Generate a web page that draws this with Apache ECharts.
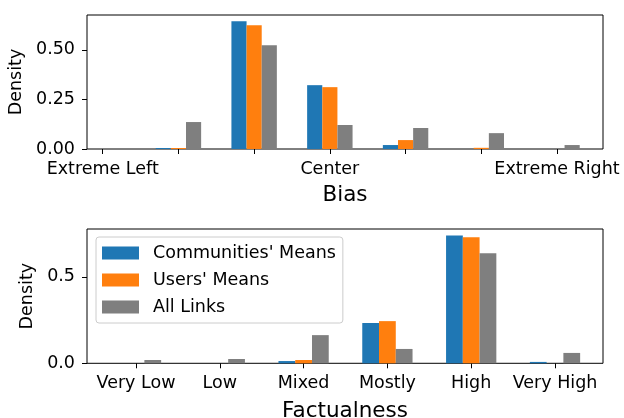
<!DOCTYPE html>
<html><head><meta charset="utf-8">
<script src="https://cdn.jsdelivr.net/npm/echarts@6/dist/echarts.min.js"></script>
<style>html,body{margin:0;padding:0;background:#fff}#c{width:624px;height:418px}</style>
</head><body><div id="c"></div>
<script>
const biasCategories = ['Extreme Left','Left','Center-Left','Center','Center-Right','Right','Extreme Right'];
const biasCommunities = [0, 0.005, 0.644, 0.322, 0.02, 0, 0];
const biasUsers = [0, 0.005, 0.624, 0.312, 0.045, 0.006, 0];
const biasAllLinks = [0, 0.136, 0.523, 0.121, 0.106, 0.08, 0.02];
const biasYTicks = [0, 0.25, 0.5];

const factCategories = ['Very Low','Low','Mixed','Mostly','High','Very High'];
const factCommunities = [0, 0, 0.013, 0.233, 0.740, 0.008];
const factUsers = [0, 0, 0.019, 0.244, 0.729, 0];
const factAllLinks = [0.019, 0.025, 0.163, 0.083, 0.637, 0.06];
const factYTicks = [0, 0.5];

const seriesNames = ["Communities' Means", "Users' Means", 'All Links'];
const colors = ['#1f77b4', '#ff7f0e', '#7f7f7f'];

const FONT = 'DejaVu Sans';
const TICK = 17.5;
const NAME = 21.5;
const topMax = 0.676, botMax = 0.777;

const chart = echarts.init(document.getElementById('c'), null, {renderer: 'canvas'});

function frameY(idx, max, ticks, dec, gap) {
  return {
    gridIndex: idx, type: 'value', min: 0, max: max,
    name: 'Density', nameLocation: 'middle', nameGap: gap,
    nameTextStyle: {fontFamily: FONT, fontSize: TICK, color: '#000'},
    axisLine: {show: false},
    axisTick: {show: true, length: 5, inside: false, lineStyle: {color: '#000'}, customValues: ticks},
    axisLabel: {fontFamily: FONT, fontSize: TICK, color: '#000', margin: 12, customValues: ticks,
      formatter: v => v.toFixed(dec)},
    splitLine: {show: false}
  };
}
function frameX(idx, name, gap) {
  return {
    gridIndex: idx, type: 'value', min: 0, max: 1,
    name: name, nameLocation: 'middle', nameGap: gap,
    nameTextStyle: {fontFamily: FONT, fontSize: NAME, color: '#000'},
    axisLine: {show: false}, axisTick: {show: false}, axisLabel: {show: false}, splitLine: {show: false}
  };
}
function barX(idx, cats, labelInterval) {
  return {
    gridIndex: idx, type: 'category', data: cats,
    axisLine: {show: false},
    axisTick: {show: true, alignWithLabel: true, interval: 0, length: 5, lineStyle: {color: '#000'}},
    axisLabel: {interval: labelInterval, fontFamily: FONT, fontSize: TICK, color: '#000', margin: 11},
    splitLine: {show: false}
  };
}
function barY(idx, max) {
  return {gridIndex: idx, type: 'value', min: 0, max: max, show: false, splitLine: {show: false}};
}
function bars(xi, yi, data, k) {
  return {
    type: 'bar', name: seriesNames[k], xAxisIndex: xi, yAxisIndex: yi, data: data,
    barWidth: '20%', barGap: '0%', itemStyle: {color: colors[k]}, animation: false, z: 2
  };
}

const gridStyle = {show: true, borderColor: '#000', borderWidth: 1, backgroundColor: 'transparent', outerBoundsMode: 'none'};

chart.setOption({
  animation: false,
  grid: [
    Object.assign({left: 87, top: 15, width: 516, height: 134}, gridStyle),
    {left: 64.85, top: 15, width: 530, height: 134, show: false, outerBoundsMode: 'none'},
    Object.assign({left: 87, top: 229, width: 516, height: 134.3}, gridStyle),
    {left: 94.1, top: 229, width: 502.8, height: 134.3, show: false, outerBoundsMode: 'none'}
  ],
  xAxis: [
    frameX(0, 'Bias', 35.5),
    barX(1, biasCategories, 2),
    frameX(2, 'Factualness', 37),
    barX(3, factCategories, 0)
  ],
  yAxis: [
    frameY(0, topMax, biasYTicks, 2, 58),
    barY(1, topMax),
    frameY(2, botMax, factYTicks, 1, 48),
    barY(3, botMax)
  ],
  legend: {
    orient: 'vertical', left: 96, top: 237,
    data: seriesNames,
    itemWidth: 37, itemHeight: 13, itemGap: 9,
    padding: [7, 7, 7, 6],
    borderColor: '#cccccc', borderWidth: 1, borderRadius: 3, backgroundColor: '#fff',
    icon: 'rect', selectedMode: false,
    textStyle: {fontFamily: FONT, fontSize: TICK, color: '#000', lineHeight: 17, padding: [0, 0, 0, 9]}
  },
  series: [
    bars(1, 1, biasCommunities, 0), bars(1, 1, biasUsers, 1), bars(1, 1, biasAllLinks, 2),
    bars(3, 3, factCommunities, 0), bars(3, 3, factUsers, 1), bars(3, 3, factAllLinks, 2)
  ]
});
</script></body></html>
